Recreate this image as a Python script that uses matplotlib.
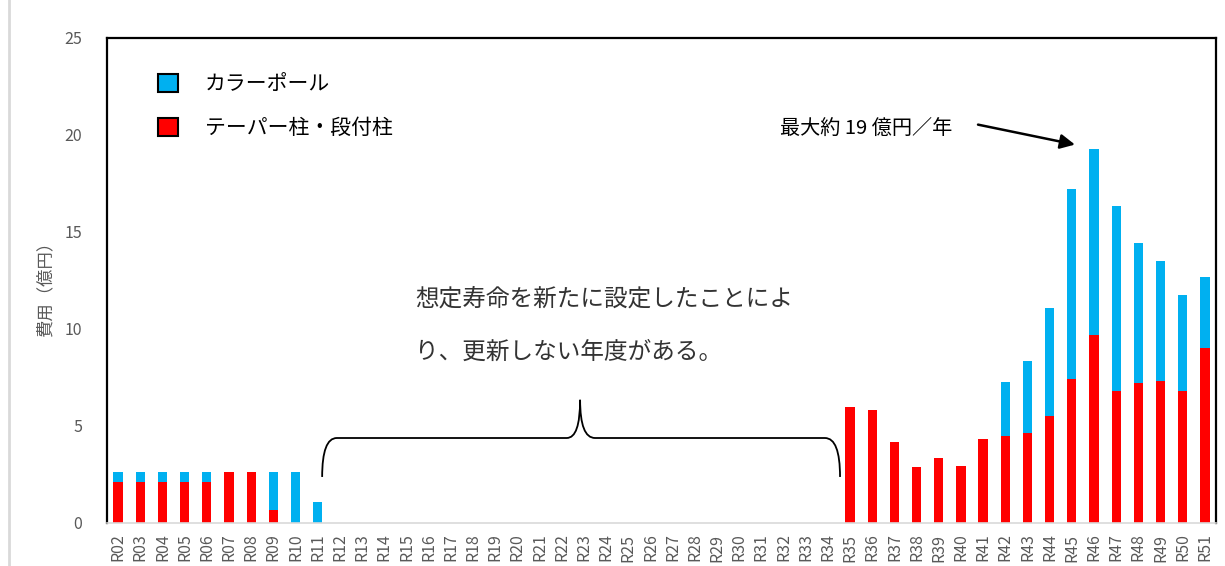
import numpy as np
import matplotlib
matplotlib.use('Agg')
import matplotlib.pyplot as plt
from matplotlib.patches import Patch, PathPatch
from matplotlib.path import Path
from matplotlib.lines import Line2D

plt.rcParams['font.family'] = ['Noto Sans CJK JP', 'DejaVu Sans']

# 年度ラベル R02..R51
years = ['R%02d' % i for i in range(2, 52)]

# テーパー柱・段付柱 (億円)
taper = [2.10, 2.10, 2.10, 2.10, 2.10, 2.63, 2.63, 0.64, 0.0, 0.0] + [0.0] * 23 + \
        [5.97, 5.83, 4.13, 2.86, 3.34, 2.91, 4.32, 4.46, 4.61, 5.49,
         7.40, 9.69, 6.77, 7.20, 7.28, 6.80, 9.02]
# カラーポール (億円)
color_pole = [0.53, 0.53, 0.53, 0.53, 0.53, 0.0, 0.0, 1.99, 2.63, 1.06] + [0.0] * 23 + \
             [0.0, 0.0, 0.0, 0.0, 0.0, 0.0, 0.0, 2.77, 3.74, 5.56,
              9.82, 9.58, 9.55, 7.23, 6.20, 4.93, 3.64]

blue = '#00B0F0'
red = '#FF0000'
gray = '#595959'

fig = plt.figure(figsize=(12.25, 5.66), dpi=100)
ax = fig.add_axes([107 / 1225, 1 - 522.5 / 566, 1109 / 1225, 484.5 / 566])

x = np.arange(len(years))
ax.bar(x, taper, width=0.42, color=red, zorder=2)
ax.bar(x, color_pole, width=0.42, bottom=taper, color=blue, zorder=2)

ax.set_xlim(-0.5, len(years) - 0.5)
ax.set_ylim(0, 25)
ax.set_yticks([0, 5, 10, 15, 20, 25])
ax.set_xticks(x)
ax.set_xticklabels(years, rotation=90)
ax.tick_params(axis='both', length=0, colors=gray, labelsize=11.5)
ax.tick_params(axis='y', pad=18)
ax.tick_params(axis='x', pad=8)

for s in ['left', 'top', 'right']:
    ax.spines[s].set_color('black')
    ax.spines[s].set_linewidth(1.6)
ax.spines['bottom'].set_color('#d9d9d9')
ax.spines['bottom'].set_linewidth(1.2)

fig.text(45 / 1225, 1 - 285 / 566, '費用（億円）', rotation=90, ha='center', va='center',
         color=gray, fontsize=12.5)

# 凡例
handles = [Patch(facecolor=blue, edgecolor='black', linewidth=1.5),
           Patch(facecolor=red, edgecolor='black', linewidth=1.5)]
ax.legend(handles, ['カラーポール', 'テーパー柱・段付柱'], loc='upper left',
          bbox_to_anchor=(51 / 1109, 1 - 35 / 484), frameon=False, fontsize=15,
          handlelength=0.95, handleheight=0.95, handletextpad=1.3,
          labelspacing=1.05, borderpad=0, borderaxespad=0)

# 注記
ax.text(415 / 22.18 - 107 / 22.18 - 0.5, 11.55, '想定寿命を新たに設定したことによ',
        fontsize=17, ha='left', va='center', color='#333333')
ax.text(415 / 22.18 - 107 / 22.18 - 0.5, 8.8, 'り、更新しない年度がある。',
        fontsize=17, ha='left', va='center', color='#333333')

# 中括弧
verts = [(9.2, 2.35), (9.2, 4.36), (9.86, 4.36),
         (20.23, 4.36),
         (20.83, 4.36), (20.83, 6.33),
         (20.83, 4.36), (21.5, 4.36),
         (31.87, 4.36),
         (32.55, 4.36), (32.55, 2.35)]
codes = [Path.MOVETO, Path.CURVE3, Path.CURVE3,
         Path.LINETO,
         Path.CURVE3, Path.CURVE3,
         Path.CURVE3, Path.CURVE3,
         Path.LINETO,
         Path.CURVE3, Path.CURVE3]
ax.add_patch(PathPatch(Path(verts, codes), facecolor='none', edgecolor='black', lw=1.3))

# 最大値の矢印
ax.text(29.84, 20.35, '最大約 19 億円／年', fontsize=14.5, ha='left', va='center')
ax.annotate('', xy=(43.14, 19.5), xytext=(38.77, 20.53),
            arrowprops=dict(arrowstyle='-|>', color='black', lw=1.8,
                            mutation_scale=22, shrinkA=0, shrinkB=0))

# 左端の枠線
fig.add_artist(Line2D([9 / 1225, 9 / 1225], [0, 1], color='#d9d9d9', lw=2))

fig.savefig('out.png', dpi=100)
